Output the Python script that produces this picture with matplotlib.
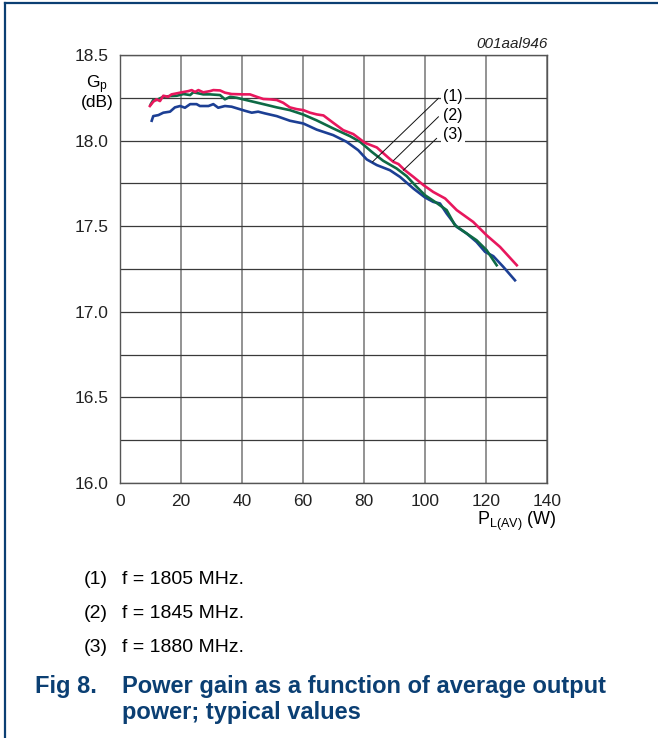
import numpy as np
import matplotlib
matplotlib.use("Agg")
import matplotlib.pyplot as plt

plt.rcParams['font.family'] = ['Liberation Sans', 'DejaVu Sans']
plt.rcParams['mathtext.fontset'] = 'custom'
plt.rcParams['mathtext.rm'] = 'Liberation Sans'
plt.rcParams['mathtext.it'] = 'Liberation Sans:italic'

# measured gain curves, PL(AV) in W, Gp in dB
pl_1805 = [9.8, 10.9, 12.0, 13.1, 14.2, 15.8, 16.9, 18.6, 20.2, 22.4, 23.5, 24.6, 25.7, 27.3,
           29.5, 30.6, 32.8, 34.4, 36.6, 40.4, 42.6, 44.8, 47.0, 49.2, 51.4, 53.5, 55.7, 57.9,
           60.1, 62.3, 64.5, 66.7, 69.9, 73.2, 76.5, 80.3, 84.2, 88.0, 89.6, 91.3, 93.4, 96.2,
           99.5, 102.7, 106.6, 110.4, 115.8, 120.2, 124.6, 130.1]
gp_1805 = [18.202, 18.227, 18.241, 18.231, 18.262, 18.256, 18.270, 18.276, 18.282, 18.289,
           18.295, 18.284, 18.295, 18.282, 18.289, 18.295, 18.293, 18.280, 18.272, 18.270,
           18.270, 18.256, 18.243, 18.241, 18.237, 18.221, 18.194, 18.184, 18.178, 18.163,
           18.153, 18.147, 18.104, 18.061, 18.038, 17.987, 17.960, 17.900, 17.876, 17.863,
           17.827, 17.788, 17.740, 17.700, 17.662, 17.594, 17.525, 17.447, 17.379, 17.272]

pl_1845 = [10.1, 10.9, 12.0, 14.2, 16.4, 18.6, 20.8, 23.0, 24.0, 25.7, 27.3, 29.5, 32.8,
           34.4, 36.1, 38.3, 40.4, 43.7, 47.0, 51.4, 55.7, 60.1, 64.5, 69.9, 75.4, 78.7,
           82.5, 86.3, 90.7, 94.0, 96.7, 100.0, 103.8, 107.1, 109.8, 113.7, 116.9, 120.2,
           123.5]
gp_1845 = [18.213, 18.237, 18.237, 18.256, 18.260, 18.262, 18.272, 18.266, 18.282, 18.276,
           18.270, 18.270, 18.266, 18.241, 18.256, 18.250, 18.241, 18.227, 18.213, 18.194,
           18.178, 18.152, 18.118, 18.071, 18.026, 17.993, 17.935, 17.882, 17.837, 17.792,
           17.740, 17.681, 17.636, 17.594, 17.506, 17.457, 17.418, 17.360, 17.272]

pl_1880 = [10.4, 10.9, 12.6, 14.2, 16.4, 18.0, 19.7, 21.3, 23.0, 25.1, 26.2, 29.0, 30.6,
           32.2, 34.4, 36.6, 38.8, 41.0, 43.2, 45.3, 47.5, 51.4, 55.7, 60.1, 64.5, 69.9,
           74.3, 78.1, 80.9, 84.2, 88.5, 91.8, 96.2, 100.0, 102.7, 104.9, 107.1, 110.4,
           113.7, 116.9, 119.7, 122.4, 125.7, 129.5]
gp_1880 = [18.116, 18.143, 18.149, 18.163, 18.169, 18.194, 18.202, 18.192, 18.213, 18.213,
           18.202, 18.202, 18.213, 18.192, 18.202, 18.198, 18.186, 18.174, 18.163, 18.169,
           18.159, 18.143, 18.116, 18.100, 18.064, 18.032, 17.993, 17.944, 17.890, 17.857,
           17.827, 17.788, 17.720, 17.668, 17.642, 17.633, 17.574, 17.496, 17.457, 17.408,
           17.350, 17.325, 17.262, 17.184]

legend_rows = [('(1)', 'f = 1805 MHz.'), ('(2)', 'f = 1845 MHz.'), ('(3)', 'f = 1880 MHz.')]

navy = '#0b3f73'
red = '#e8175d'
green = '#0e6a45'
blue = '#1c3f94'

W, H = 658, 738
fig = plt.figure(figsize=(W / 100, H / 100), dpi=100)
ax = fig.add_axes([120 / W, 1 - 483 / H, 427 / W, 428 / H])

ax.set_xlim(0, 140)
ax.set_ylim(16.0, 18.5)
ax.set_xticks(np.arange(0, 141, 20))
ax.set_yticks(np.arange(16.0, 18.51, 0.5))
ax.set_yticks(np.arange(16.25, 18.5, 0.5), minor=True)
ax.set_yticklabels(['%.1f' % v for v in np.arange(16.0, 18.51, 0.5)])
ax.tick_params(which='both', length=0, labelsize=12.5, colors='#222222')
ax.tick_params(axis='x', pad=8)
ax.tick_params(axis='y', pad=8.5)

ax.grid(axis='x', color='#8a8a8a', lw=1.3)
ax.grid(axis='y', which='both', color='#3a3a3a', lw=0.9)
ax.set_axisbelow(True)
for s in ax.spines.values():
    s.set_color('#555555')
    s.set_linewidth(1.0)

ax.plot(pl_1805, gp_1805, color=red, lw=1.9, zorder=4)
ax.plot(pl_1845, gp_1845, color=green, lw=1.9, zorder=3)
ax.plot(pl_1880, gp_1880, color=blue, lw=1.9, zorder=2)

# curve call-outs with leader lines
callouts = [('(1)', 18.26, (104.4, 18.247), (82.8, 17.876)),
            ('(2)', 18.149, (104.4, 18.139), (89.6, 17.882)),
            ('(3)', 18.038, (103.8, 18.013), (92.9, 17.827))]
for lab, ty, p0, p1 in callouts:
    ax.plot([p0[0], p1[0]], [p0[1], p1[1]], color='#111111', lw=0.7, zorder=5)
    ax.text(109.2, ty, lab, ha='center', va='center', fontsize=11.5, zorder=6,
            bbox=dict(boxstyle='square,pad=0.15', fc='white', ec='none'))

fig.text(97 / W, 1 - 85 / H, r'G$_\mathregular{p}$', ha='center', va='center', fontsize=12.5)
fig.text(97 / W, 1 - 103 / H, '(dB)', ha='center', va='center', fontsize=12.5)
fig.text(517 / W, 1 - 521 / H, r'P$_\mathregular{L(AV)}$ (W)', ha='center', va='center',
         fontsize=13)
fig.text(548 / W, 1 - 44 / H, '001aal946', ha='right', va='center', fontsize=11,
         style='italic', color='#222222')

for i, (num, txt) in enumerate(legend_rows):
    y = 1 - (579 + 34 * i) / H
    fig.text(84 / W, y, num, ha='left', va='center', fontsize=14)
    fig.text(122 / W, y, txt, ha='left', va='center', fontsize=14)

fig.text(35 / W, 1 - 687 / H, 'Fig 8.', ha='left', va='center', fontsize=17,
         fontweight='bold', color=navy)
fig.text(122 / W, 1 - 687 / H, 'Power gain as a function of average output', ha='left',
         va='center', fontsize=17, fontweight='bold', color=navy)
fig.text(122 / W, 1 - 713 / H, 'power; typical values', ha='left', va='center',
         fontsize=17, fontweight='bold', color=navy)

# page frame: top and left rules
fig.add_artist(plt.Line2D([4.5 / W, 1], [1 - 2.5 / H, 1 - 2.5 / H], color=navy, lw=1.6))
fig.add_artist(plt.Line2D([4.5 / W, 4.5 / W], [0, 1 - 2.5 / H], color=navy, lw=1.6))

fig.savefig('out.png', dpi=100)
